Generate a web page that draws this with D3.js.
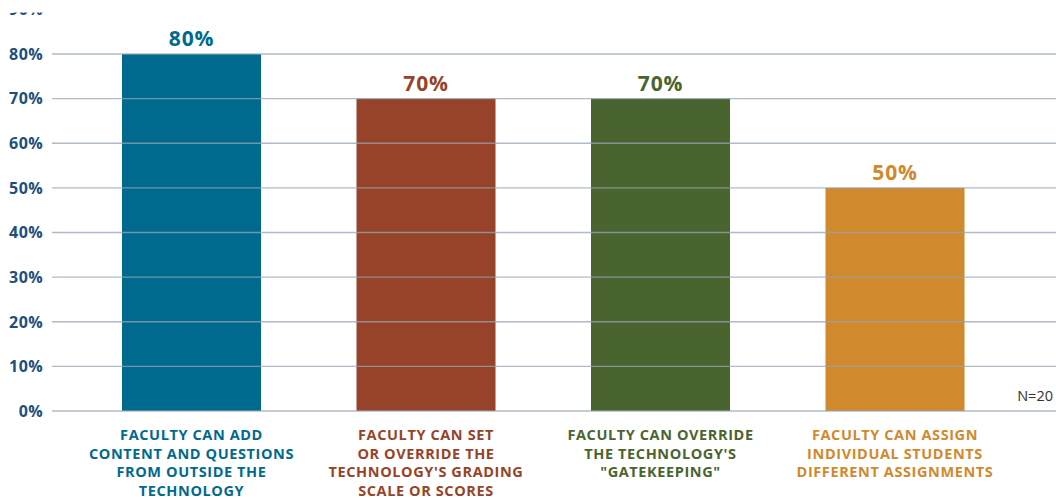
<!DOCTYPE html>
<html><head><meta charset="utf-8">
<script src="https://cdn.jsdelivr.net/npm/d3@7/dist/d3.min.js"></script>
<style>body{margin:0;background:#fff}svg{display:block;font-family:"Open Sans",sans-serif}</style>
</head><body><svg id="c" width="1056" height="499"></svg>
<script>
const categories = [
  ["FACULTY CAN ADD","CONTENT AND QUESTIONS","FROM OUTSIDE THE","TECHNOLOGY"],
  ["FACULTY CAN SET","OR OVERRIDE THE","TECHNOLOGY'S GRADING","SCALE OR SCORES"],
  ["FACULTY CAN OVERRIDE","THE TECHNOLOGY'S","\"GATEKEEPING\""],
  ["FACULTY CAN ASSIGN","INDIVIDUAL STUDENTS","DIFFERENT ASSIGNMENTS"]
];
const values = [80, 70, 70, 50];
const colors = ["#006a8e", "#96432a", "#4a6430", "#d0892c"];
const ticks = [0, 10, 20, 30, 40, 50, 60, 70, 80, 90];
const note = "N=20";

const svg = d3.select("#c");
const y = d3.scaleLinear().domain([0, 80]).range([411, 54]);
const x = d3.scaleBand().domain(d3.range(values.length)).range([74.25, 1012.25]).paddingInner(0.4072).paddingOuter(0.2036);

svg.append("defs").append("clipPath").attr("id","clip").append("rect").attr("x",0).attr("y",12.5).attr("width",1056).attr("height",488);
const g = svg.append("g").attr("clip-path","url(#clip)");

// bars
g.selectAll("rect.bar").data(values).join("rect").attr("class","bar")
  .attr("x",(d,i)=>x(i)).attr("width",x.bandwidth())
  .attr("y",d=>y(d)).attr("height",d=>y(0)-y(d)).attr("fill",(d,i)=>colors[i]);

// gridlines on top
g.selectAll("line.grid").data(ticks).join("line").attr("class","grid")
  .attr("x1",52).attr("x2",1056).attr("y1",d=>y(d)).attr("y2",d=>y(d))
  .attr("stroke","#97a4b4").attr("stroke-opacity",0.75).attr("stroke-width",1.3);

// tick labels
g.selectAll("text.tick").data(ticks).join("text").attr("class","tick")
  .attr("x",43).attr("y",d=>y(d)).attr("dy","0.36em").attr("text-anchor","end")
  .attr("font-size",16).attr("letter-spacing",0.4).attr("font-weight",700).attr("fill","#1d4f7c").text(d=>d+"%");

// value labels
g.selectAll("text.val").data(values).join("text").attr("class","val")
  .attr("x",(d,i)=>x(i)+x.bandwidth()/2).attr("y",d=>y(d)-8).attr("text-anchor","middle")
  .attr("font-size",21).attr("letter-spacing",0.8).attr("font-weight",700).attr("fill",(d,i)=>colors[i]).text(d=>d+"%");

// category labels
categories.forEach((lines,i)=>{
  const t = g.append("text").attr("text-anchor","middle").attr("font-size",14.5).attr("letter-spacing",0.6).attr("font-weight",700).attr("fill",colors[i]);
  lines.forEach((l,j)=>{
    t.append("tspan").attr("x",x(i)+x.bandwidth()/2).attr("y",440+j*18.7).text(l);
  });
});

g.append("text").attr("x",1053).attr("y",401).attr("text-anchor","end").attr("font-size",14.5).attr("fill","#333").text(note);
</script></body></html>
